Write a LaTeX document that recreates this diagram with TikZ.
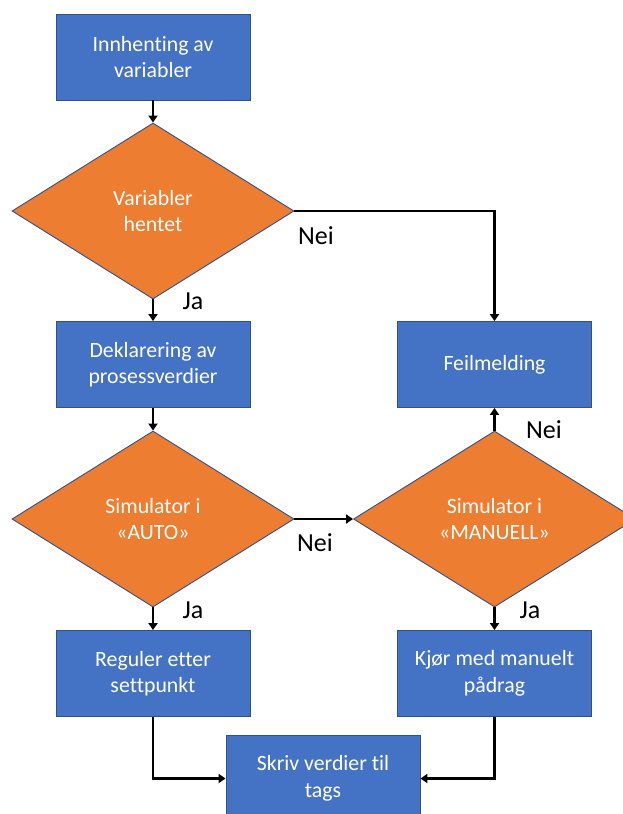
\documentclass[tikz,border=0pt]{standalone}
\usepackage{fontspec}
\setmainfont{Carlito}[Ligatures={NoCommon}]
\usetikzlibrary{shapes.geometric,arrows.meta}
\definecolor{procblue}{HTML}{4472C4}
\definecolor{edgeblue}{HTML}{2F528F}
\definecolor{decorange}{HTML}{ED7D31}
\tikzset{
  proc/.style={rectangle, draw=edgeblue, line width=0.9pt, fill=procblue,
    minimum width=194pt, minimum height=86pt, inner sep=0pt,
    text=white, align=center, font=\fontsize{21.8}{26.6}\selectfont},
  decision/.style={diamond, draw=edgeblue, line width=0.9pt, fill=decorange,
    minimum width=282pt, minimum height=176pt, inner sep=0pt, aspect=1.6,
    text=white, align=center, font=\fontsize{21.8}{26.6}\selectfont},
  arr/.style={line width=2.2pt, -{Triangle[length=7pt,width=9pt]}},
  answer/.style={font=\fontsize{26}{30}\selectfont, text=black, inner sep=0pt}
}
\begin{document}
\begin{tikzpicture}[x=1pt, y=-1pt]
  \path[use as bounding box, clip] (0,0) rectangle (623,814);
  \fill[white] (0,0) rectangle (623,814);

  % left column
  \node[proc] (innh) at (153,57) {Innhenting av\\variabler};
  \node[decision] (d1) at (153,211) {Variabler\\hentet};
  \node[proc] (dekl) at (153,364.5) {Deklarering av\\prosessverdier};
  \node[decision] (d2) at (153,519) {Simulator i\\«AUTO»};
  \node[proc] (reg) at (153,673.5) {Reguler etter\\settpunkt};

  % right column
  \node[proc] (feil) at (494.5,364.5) {Feilmelding};
  \node[decision] (d3) at (494.5,519) {Simulator i\\«MANUELL»};
  \node[proc] (kjor) at (494.5,673.5) {Kjør med manuelt\\pådrag};

  % merge box
  \node[proc] (skriv) at (323,778.5) {Skriv verdier til\\tags};

  % connectors
  \draw[arr] (innh) -- (d1);
  \draw[arr] (d1) -- (dekl);
  \draw[arr] (d1.east) -| (feil.north);
  \draw[arr] (dekl) -- (d2);
  \draw[arr] (d2) -- (reg);
  \draw[arr] (d2.east) -- (d3.west);
  \draw[arr] (d3.north) -- (feil.south);
  \draw[arr] (d3) -- (kjor);
  \draw[arr] (reg.south) |- (skriv.west);
  \draw[arr] (kjor.south) |- (skriv.east);

  % branch answers
  \node[answer] (nei1) at (316,236) {Nei};
  \node[answer] (ja1) at (193,301) {Ja};
  \node[answer] (nei2) at (544,430) {Nei};
  \node[answer] (nei3) at (315,543) {Nei};
  \node[answer] (ja2) at (193,610) {Ja};
  \node[answer] (ja3) at (530,610) {Ja};
\end{tikzpicture}
\end{document}
